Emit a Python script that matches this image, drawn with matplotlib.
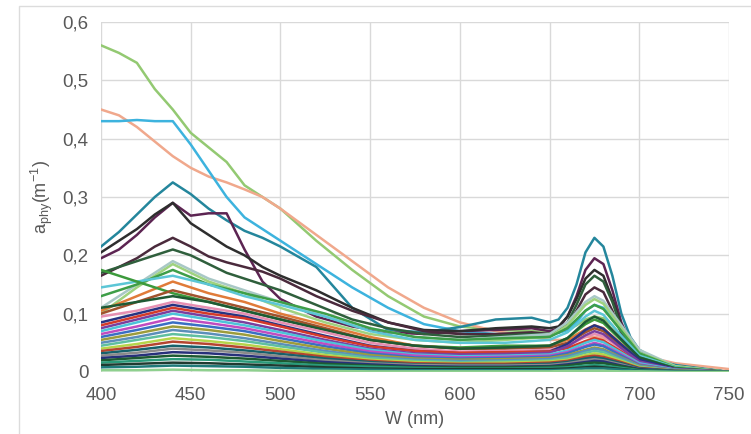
import numpy as np
import matplotlib
matplotlib.use("Agg")
from matplotlib import pyplot as plt
from matplotlib.patches import Rectangle
from matplotlib.ticker import FuncFormatter

plt.rcParams['font.family'] = ['Liberation Sans', 'DejaVu Sans']
plt.rcParams['mathtext.default'] = 'regular'

# wavelength grids (nm)
wl_main = [400, 410, 420, 430, 440, 450, 460, 470, 480, 490, 500, 520, 540, 560, 580, 600, 620, 640,
           650, 655, 660, 665, 670, 675, 680, 685, 690, 695, 700, 710, 720, 750]
wl_bundle = [400, 420, 440, 460, 480, 500, 525, 550, 575, 600, 625, 650, 660, 670, 675, 680,
             690, 700, 720, 750]

# the few spectra that stand out above the rest (m^-1)
green_top = [0.56, 0.547, 0.53, 0.485, 0.45, 0.41, 0.385, 0.36, 0.32, 0.30, 0.28, 0.225, 0.175, 0.13,
             0.095, 0.078, 0.072, 0.07,
             0.068, 0.068, 0.072, 0.08, 0.09, 0.095, 0.092, 0.08, 0.06, 0.045, 0.03, 0.017, 0.01, 0.0]
salmon = [0.45, 0.44, 0.42, 0.395, 0.37, 0.35, 0.335, 0.325, 0.313, 0.30, 0.28, 0.235, 0.19, 0.145,
          0.11, 0.085, 0.07, 0.06,
          0.055, 0.055, 0.055, 0.057, 0.06, 0.06, 0.058, 0.053, 0.047, 0.04, 0.033, 0.022, 0.015, 0.005]
light_blue = [0.43, 0.43, 0.432, 0.43, 0.43, 0.39, 0.345, 0.30, 0.265, 0.245, 0.225, 0.185, 0.145, 0.11,
              0.082, 0.07, 0.065, 0.065,
              0.065, 0.067, 0.072, 0.085, 0.105, 0.115, 0.11, 0.092, 0.07, 0.05, 0.035, 0.02, 0.01, 0.0]
teal = [0.215, 0.24, 0.27, 0.30, 0.325, 0.305, 0.28, 0.26, 0.242, 0.23, 0.215, 0.18, 0.11, 0.072,
        0.068, 0.077, 0.09, 0.093,
        0.085, 0.09, 0.11, 0.15, 0.205, 0.23, 0.215, 0.165, 0.10, 0.06, 0.038, 0.02, 0.012, 0.0]
purple = [0.195, 0.21, 0.235, 0.265, 0.29, 0.268, 0.272, 0.272, 0.21, 0.155, 0.125, 0.095, 0.078, 0.068,
          0.065, 0.07, 0.072, 0.075,
          0.07, 0.075, 0.095, 0.13, 0.175, 0.195, 0.185, 0.14, 0.085, 0.05, 0.032, 0.016, 0.01, 0.0]
black = [0.205, 0.225, 0.245, 0.27, 0.29, 0.255, 0.235, 0.215, 0.20, 0.18, 0.165, 0.14, 0.11, 0.085,
         0.072, 0.07, 0.075, 0.078,
         0.075, 0.078, 0.095, 0.125, 0.16, 0.175, 0.165, 0.125, 0.08, 0.048, 0.03, 0.017, 0.01, 0.0]
maroon = [0.165, 0.18, 0.195, 0.215, 0.23, 0.215, 0.198, 0.188, 0.18, 0.172, 0.16, 0.13, 0.105, 0.085,
          0.07, 0.065, 0.065, 0.068,
          0.065, 0.068, 0.08, 0.105, 0.133, 0.145, 0.137, 0.105, 0.066, 0.04, 0.026, 0.014, 0.008, 0.0]
dark_green = [0.17, 0.18, 0.19, 0.20, 0.21, 0.20, 0.185, 0.17, 0.16, 0.15, 0.14, 0.115, 0.09, 0.075,
              0.065, 0.06, 0.062, 0.065,
              0.065, 0.07, 0.085, 0.115, 0.15, 0.165, 0.155, 0.12, 0.075, 0.045, 0.028, 0.015, 0.008, 0.0]

main_series = [green_top, salmon, light_blue, teal, purple, black, maroon, dark_green]
main_colors = ['#93c972', '#f0a88c', '#3db3de', '#24869c', '#5c2452', '#2e2e2e', '#4a2a3c', '#2f5f3c']

# the dense bundle of lower spectra, values in 1e-3 m^-1
b01 = [110, 150, 190, 160, 140, 120, 95, 75, 60, 55, 60, 65, 85, 120, 130, 122, 80, 38, 10, 0]
b02 = [100, 145, 185, 155, 135, 110, 85, 65, 55, 50, 55, 60, 80, 115, 125, 117, 75, 33, 10, 0]
b03 = [130, 150, 175, 150, 135, 120, 100, 75, 60, 55, 58, 60, 75, 105, 115, 108, 70, 32, 8, 0]
b04 = [145, 155, 165, 150, 130, 115, 95, 70, 55, 50, 50, 55, 68, 95, 105, 98, 62, 28, 8, 0]
b05 = [105, 130, 155, 135, 120, 100, 80, 60, 45, 40, 42, 45, 55, 73, 80, 75, 48, 22, 6, 0]
b06 = [175, 155, 135, 120, 105, 90, 72, 55, 45, 42, 45, 45, 58, 82, 90, 84, 54, 25, 7, 0]
b07 = [100, 120, 140, 125, 110, 95, 75, 55, 45, 40, 40, 42, 50, 68, 75, 70, 45, 20, 5, 0]
b08 = [110, 120, 130, 120, 105, 90, 72, 55, 45, 40, 42, 45, 58, 86, 95, 88, 56, 25, 6, 0]
b09 = [95, 105, 120, 110, 100, 85, 68, 50, 40, 35, 36, 38, 45, 60, 65, 61, 39, 18, 5, 0]
b10 = [85, 100, 115, 105, 95, 80, 62, 45, 36, 32, 33, 35, 48, 72, 80, 74, 47, 21, 5, 0]
b11 = [80, 95, 110, 100, 92, 78, 60, 44, 36, 33, 34, 35, 41, 53, 58, 54, 35, 16, 4, 0]
b12 = [75, 90, 105, 95, 85, 72, 55, 40, 32, 30, 31, 33, 44, 63, 70, 65, 41, 18, 4, 0]
b13 = [70, 85, 100, 90, 80, 68, 52, 38, 30, 27, 28, 30, 37, 50, 55, 51, 33, 15, 4, 0]
b14 = [65, 78, 92, 84, 75, 63, 48, 35, 28, 25, 26, 28, 34, 45, 50, 46, 30, 13, 3, 0]
b15 = [60, 72, 85, 78, 70, 58, 44, 32, 25, 23, 24, 26, 32, 43, 47, 44, 28, 12, 3, 0]
b16 = [55, 66, 78, 72, 64, 53, 40, 29, 23, 21, 22, 24, 29, 38, 42, 39, 25, 11, 3, 0]
b17 = [50, 60, 72, 66, 58, 48, 36, 26, 21, 19, 20, 22, 27, 36, 40, 37, 24, 10, 3, 0]
b18 = [45, 55, 65, 60, 53, 44, 33, 24, 19, 17, 18, 20, 24, 33, 36, 34, 21, 9, 2, 0]
b19 = [40, 48, 58, 53, 47, 39, 29, 21, 17, 15, 16, 18, 21, 29, 32, 30, 19, 8, 2, 0]
b20 = [36, 43, 52, 48, 42, 35, 26, 19, 15, 14, 14, 16, 19, 26, 28, 26, 17, 7, 2, 0]
b21 = [32, 38, 45, 42, 37, 31, 23, 17, 13, 12, 12, 14, 17, 23, 25, 23, 15, 6, 2, 0]
b22 = [28, 33, 40, 37, 33, 27, 20, 15, 12, 11, 11, 12, 15, 20, 22, 20, 13, 5, 1, 0]
b23 = [24, 28, 34, 32, 28, 23, 17, 13, 10, 9, 9, 10, 13, 17, 19, 18, 11, 5, 1, 0]
b24 = [20, 24, 28, 26, 23, 19, 14, 11, 8, 8, 8, 9, 11, 15, 16, 15, 10, 4, 1, 0]
b25 = [16, 19, 22, 21, 18, 15, 11, 9, 7, 6, 6, 7, 8, 11, 12, 11, 7, 3, 1, 0]
b26 = [12, 14, 16, 15, 13, 11, 8, 6, 5, 5, 5, 5, 6, 8, 9, 8, 5, 2, 1, 0]
b27 = [8, 9, 11, 10, 9, 7, 5, 4, 3, 3, 3, 3, 4, 6, 6, 6, 4, 2, 1, 0]
b28 = [3, 3, 4, 3, 3, 2, 2, 1, 1, 1, 1, 1, 2, 2, 2, 2, 1, 1, 0, 0]

bundle_series = [b01, b02, b03, b04, b05, b06, b07, b08, b09, b10, b11, b12, b13, b14,
                 b15, b16, b17, b18, b19, b20, b21, b22, b23, b24, b25, b26, b27, b28]
bundle_colors = ['#a8c8c6', '#9fd27f', '#3e9e48', '#5cc6d6', '#e07b39', '#3c9a3c', '#a0522d',
                 '#1e5a34', '#e68fb2', '#283382', '#d43a2a', '#7b3f9e', '#4cc3d9', '#c04cc0',
                 '#3a6fc4', '#9c9c3c', '#5b8fb9', '#5fbf9f', '#b5d44a', '#b5452f', '#17616b',
                 '#8a8a8a', '#27307a', '#1e5a32', '#2a9a7a', '#203a30', '#1f7a7a', '#8fd08f']

fig = plt.figure(figsize=(7.51, 4.34), dpi=100)
ax = fig.add_axes([0.1345, 0.1429, 0.8362, 0.8064])

# light frame of the chart area
fig.patches.append(Rectangle((19 / 751, -0.05), 1.1, 0.05 + 428 / 434, transform=fig.transFigure,
                             fill=False, edgecolor='#dcdcdc', linewidth=1.0))

for vals, col in zip(main_series, main_colors):
    ax.plot(wl_main, vals, color=col, linewidth=1.8, zorder=3)

for vals, col in zip(bundle_series, bundle_colors):
    ax.plot(wl_bundle, np.array(vals) / 1000.0, color=col, linewidth=1.8, zorder=4)

ax.set_xlim(400, 750)
ax.set_ylim(0, 0.6)
ax.set_xticks(np.arange(400, 751, 50))
ax.set_yticks(np.arange(0, 0.61, 0.1))
ax.yaxis.set_major_formatter(FuncFormatter(lambda v, p: '0' if abs(v) < 1e-9 else ('%.1f' % v).replace('.', ',')))
ax.grid(True, color='#d9d9d9', linewidth=1.0, zorder=0)
ax.set_axisbelow(True)
for s in ax.spines.values():
    s.set_visible(False)
ax.tick_params(axis='both', length=0, labelsize=13.5, labelcolor='#595959')
ax.tick_params(axis='x', pad=11)
ax.tick_params(axis='y', pad=9)

ax.set_xlabel('W (nm)', fontsize=13, color='#595959', labelpad=5)
ax.set_ylabel('a$_{phy}$(m$^{-1}$)', fontsize=13, color='#595959', labelpad=5)

fig.savefig('out.png', dpi=100)
